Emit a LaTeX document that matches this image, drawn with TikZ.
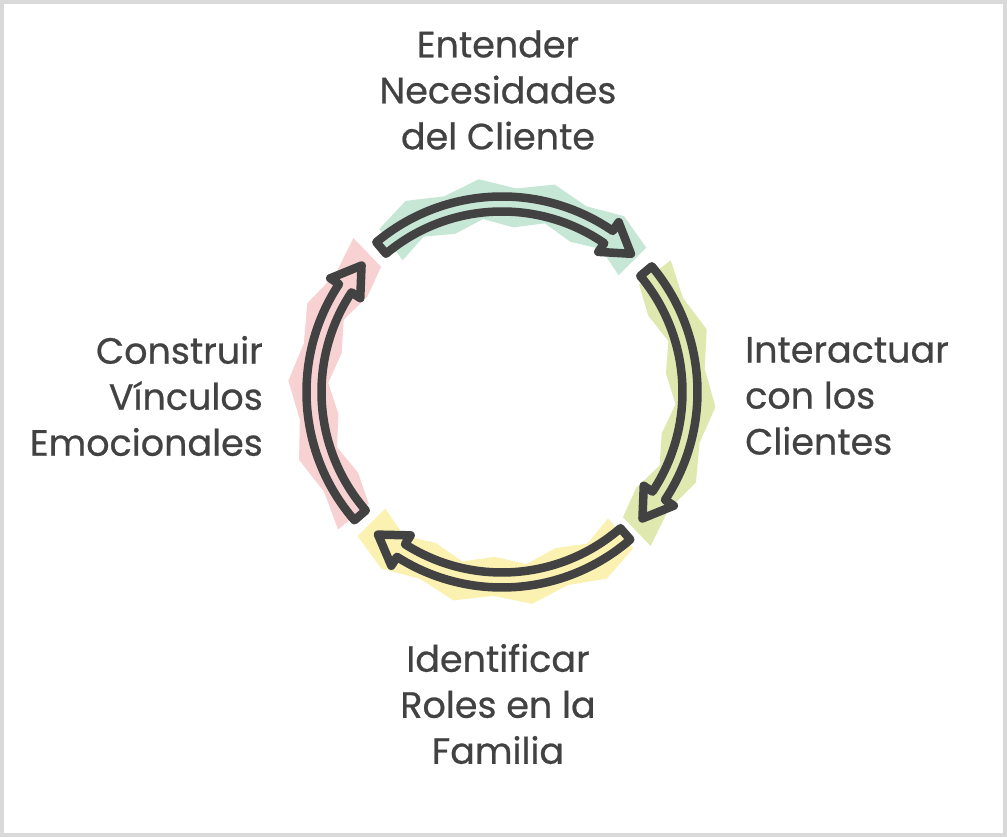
\documentclass[tikz,border=0pt]{standalone}
\usepackage{fontspec}
\setmainfont{Poppins}
\newfontfamily\lblfont{Poppins}[FakeBold=0.6]
\definecolor{ink}{HTML}{424242}
\definecolor{frameg}{HTML}{D9D9D9}
\definecolor{cteal}{HTML}{C6E6D6}
\definecolor{cgreen}{HTML}{DFE9AF}
\definecolor{cyellow}{HTML}{FBF1B0}
\definecolor{cpink}{HTML}{F8D2D2}
\tikzset{
  lbl/.style={text=ink, font=\lblfont\fontsize{36.5}{46}\selectfont, inner sep=0pt},
  arrowline/.style={draw=ink, line width=8.5pt, line join=round, line cap=round},
}
\newcommand\cycarrow[3]{%
  \pgfmathsetmacro\ah{#2+8.5}%
  \draw[arrowline, fill=#3] (#1:195.5pt) arc[start angle=#1, end angle=\ah, radius=195.5pt]
    -- (\ah:206pt) -- (#2:189pt) -- (\ah:170pt) -- (\ah:180.5pt)
    arc[start angle=\ah, end angle=#1, radius=180.5pt] -- cycle;
}
\newcommand\jagband[4]{% start, end, color, phase
  \fill[#3] plot[domain=0:1, samples=9] ({#1+\x*(#2-#1)}:{204+10*mod(round(\x*8+#4),2)})
    -- plot[domain=1:0, samples=9] ({#1+\x*(#2-#1)}:{174-9*mod(round(\x*8+#4+1),2)}) -- cycle;
}
\begin{document}
\begin{tikzpicture}[x=1pt,y=1pt]
\fill[white] (0,0) rectangle (1007,837);
\draw[frameg, line width=4pt] (2,2) rectangle (1005,835);
\useasboundingbox (0,0) rectangle (1007,837);
\coordinate (C) at (502,445);
\begin{scope}[shift={(C)}]
  \jagband{127}{45}{cteal}{0}
  \jagband{38}{-46}{cgreen}{1}
  \jagband{-50}{-135}{cyellow}{0}
  \jagband{-140}{-226}{cpink}{1}
  \cycarrow{130}{47}{cteal}
  \cycarrow{40}{-42}{cgreen}
  \cycarrow{-49}{-131}{cyellow}
  \cycarrow{-139}{-222}{cpink}
\end{scope}
\node[lbl, align=center] (top) at (498,747) {Entender\\Necesidades\\del Cliente};
\node[lbl, align=left, anchor=west] (right) at (745,441) {Interactuar\\con los\\Clientes};
\node[lbl, align=center] (bottom) at (498,133) {Identificar\\Roles en la\\Familia};
\node[lbl, align=right, anchor=east] (left) at (263,441) {Construir\\Vínculos\\Emocionales};
\end{tikzpicture}
\end{document}
